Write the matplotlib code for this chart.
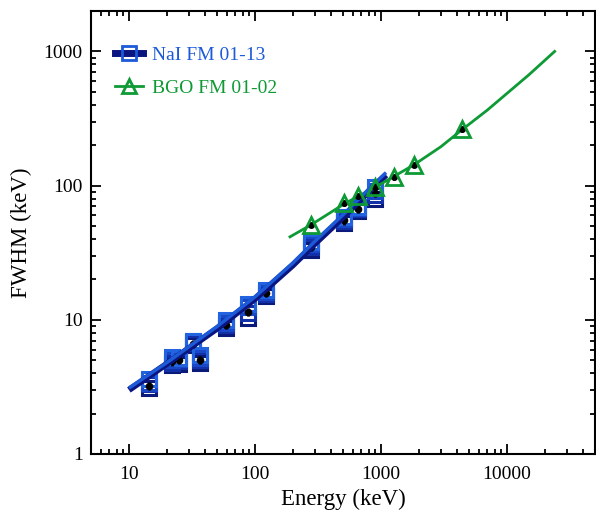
import matplotlib
matplotlib.use('Agg')
import numpy as np
import matplotlib.pyplot as plt
from matplotlib.lines import Line2D
from matplotlib.ticker import LogLocator, NullFormatter, FixedLocator, FixedFormatter

# NaI detectors: calibration energies and FWHM (a few detectors)
nai_energy = [14.4, 22.1, 25.0, 32.0, 36.5, 59.5, 88.0, 122.0, 279.0, 511.0, 662.0, 898.0]
nai_det_a = [3.1, 4.6, 4.7, 6.5, 4.8, 8.7, 10.4, 15.1, 33.0, 52.8, 65.0, 80.0]
nai_det_b = [3.3, 4.8, 4.9, 6.7, 5.0, 9.1, 11.2, 15.6, 34.8, 54.8, 66.5, 85.0]
nai_det_c = [3.4, 5.0, 5.1, 6.9, 5.2, 9.5, 12.4, 16.2, 36.5, 56.8, 68.0, 91.0]
nai_det_d = [3.6, 5.3, 5.2, 7.0, 5.5, 10.0, 13.2, 16.7, 38.0, 58.6, 69.5, 97.0]
nai_mean = [3.2, 4.9, 5.0, 6.6, 5.0, 9.2, 11.5, 15.8, 35.0, 55.0, 67.0, 88.0]

# NaI resolution fit curves
nai_fit_e = [10, 20, 50, 100, 200, 300, 500, 800, 1100]
nai_fit_a = [3.0, 4.7, 8.6, 14.3, 25.5, 37.0, 58.0, 90.0, 120.0]
nai_fit_b = [3.1, 4.8, 8.9, 14.8, 26.5, 38.5, 60.5, 94.0, 125.0]

# BGO detectors
bgo_energy = [279.0, 511.0, 662.0, 898.0, 1275.0, 1836.0, 4438.0]
bgo_fwhm = [51.0, 74.0, 83.0, 97.0, 115.0, 143.0, 262.0]

# BGO resolution fit curve
bgo_fit_e = [190, 279, 511, 898, 1836, 3000, 4438, 7000, 10000, 15000, 24000]
bgo_fit_w = [41.5, 51.0, 73.0, 97.0, 143.0, 195.0, 262.0, 365.0, 485.0, 670.0, 1000.0]

navy = '#0b1580'
blue = '#1c5ad8'
green = '#0e9a35'

plt.rcParams['font.family'] = ['Liberation Serif', 'DejaVu Serif']
plt.rcParams['font.size'] = 14

fig = plt.figure(figsize=(5.96, 5.12), dpi=100)
ax = fig.add_axes([0.1527, 0.1133, 0.8453, 0.8652])

# NaI markers (several detectors overlap)
det_colors = ['#0a1a7a', '#1230a8', '#1848c8', '#2263e0']
for vals, col in zip([nai_det_a, nai_det_b, nai_det_c, nai_det_d], det_colors):
    ax.plot(nai_energy, vals, ls='none', marker='s', ms=10, mfc='none',
            mec=col, mew=2.2, zorder=3)
ax.errorbar(nai_energy, nai_mean, yerr=[v * 0.07 for v in nai_mean], fmt='o',
            color='black', ms=4.5, elinewidth=2, capsize=0, zorder=4)

# NaI fit lines
ax.plot(nai_fit_e, nai_fit_a, color=navy, lw=4.5, zorder=5, solid_capstyle='butt')
ax.plot(nai_fit_e, nai_fit_b, color=blue, lw=2.5, zorder=6, solid_capstyle='butt')

# BGO
ax.plot(bgo_fit_e, bgo_fit_w, color=green, lw=2, zorder=5)
ax.errorbar(bgo_energy, bgo_fwhm, yerr=[v * 0.04 for v in bgo_fwhm], fmt='o',
            color='black', ms=4, elinewidth=2, capsize=0, zorder=6)
ax.plot(bgo_energy, bgo_fwhm, ls='none', marker='^', ms=11, mfc='none',
        mec=green, mew=2, zorder=7)

ax.set_xscale('log')
ax.set_yscale('log')
ax.set_xlim(5, 50000)
ax.set_ylim(1, 2000)

ax.xaxis.set_major_locator(FixedLocator([10, 100, 1000, 10000]))
ax.xaxis.set_major_formatter(FixedFormatter(['10', '100', '1000', '10000']))
ax.yaxis.set_major_locator(FixedLocator([1, 10, 100, 1000]))
ax.yaxis.set_major_formatter(FixedFormatter(['1', '10', '100', '1000']))
for axis in (ax.xaxis, ax.yaxis):
    axis.set_minor_locator(LogLocator(base=10, subs=np.arange(2, 10)))
    axis.set_minor_formatter(NullFormatter())

ax.tick_params(which='both', direction='in', top=True, right=True, width=1.3)
ax.tick_params(which='major', length=7, labelsize=14)
ax.tick_params(axis='x', which='major', pad=9)
ax.tick_params(axis='y', which='major', pad=6)
ax.tick_params(which='minor', length=3.5)
for sp in ax.spines.values():
    sp.set_linewidth(1.5)

ax.set_xlabel('Energy (keV)', fontsize=16.5, labelpad=4)
ax.set_ylabel('FWHM (keV)', fontsize=16.5, labelpad=8)

handles = [
    Line2D([], [], color=navy, lw=5, marker='s', ms=10, mfc='none', mec=blue, mew=2),
    Line2D([], [], color=green, lw=2, marker='^', ms=10, mfc='none', mec=green, mew=2),
]
leg = ax.legend(handles, ['NaI FM 01-13', 'BGO FM 01-02'], loc='upper left',
                frameon=False, fontsize=14, handlelength=1.4, handletextpad=0.5,
                labelspacing=0.8, borderaxespad=0.6, bbox_to_anchor=(0.01, 0.965))
for txt, col in zip(leg.get_texts(), [blue, green]):
    txt.set_color(col)

fig.savefig('out.png', dpi=100)
